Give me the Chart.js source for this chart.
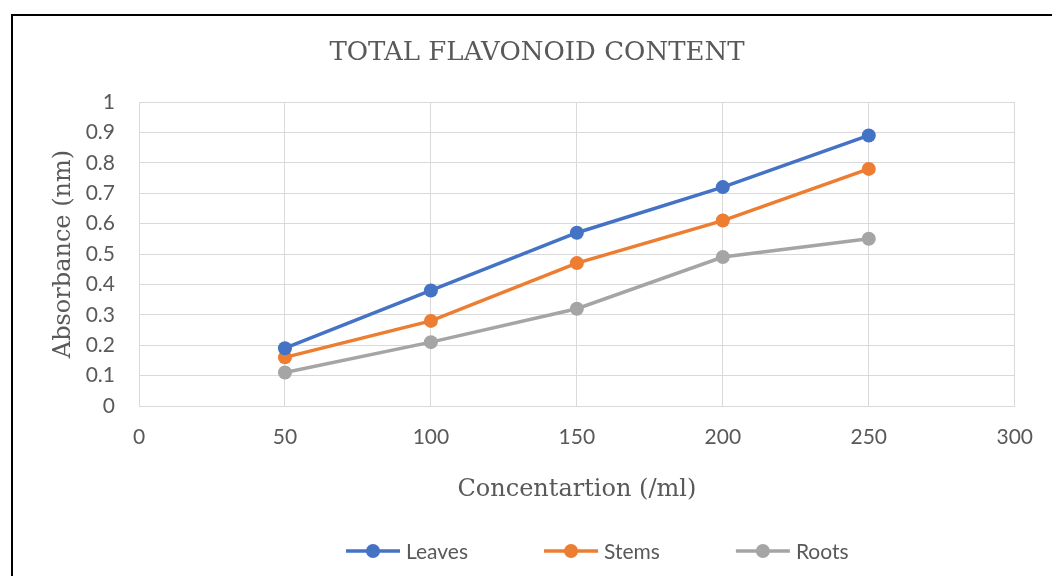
<!DOCTYPE html>
<html>
<head>
<meta charset="utf-8">
<script src="https://cdn.jsdelivr.net/npm/chart.js@4.4.1/dist/chart.umd.min.js"></script>
<style>
  html, body { margin: 0; padding: 0; background: #ffffff; }
  #wrap { width: 1052px; height: 576px; position: relative; }
</style>
</head>
<body>
<div id="wrap"><canvas id="c" width="1052" height="576"></canvas></div>
<script>
const chartTitle = 'TOTAL FLAVONOID CONTENT';
const xAxisTitle = 'Concentartion (/ml)';
const yAxisTitle = 'Absorbance (nm)';
const concentrations = [50, 100, 150, 200, 250];
const seriesNames = ['Leaves', 'Stems', 'Roots'];
const leaves = [0.19, 0.38, 0.57, 0.72, 0.89];
const stems  = [0.16, 0.28, 0.47, 0.61, 0.78];
const roots  = [0.11, 0.21, 0.32, 0.49, 0.55];
const xTickLabels = ['0', '50', '100', '150', '200', '250', '300'];
const yTickLabels = ['0', '0.1', '0.2', '0.3', '0.4', '0.5', '0.6', '0.7', '0.8', '0.9', '1'];
const seriesColors = ['#4472C4', '#ED7D31', '#A5A5A5'];

const TEXT = '#595959';
const GRID = '#D9D9D9';
const SANS = 'Lato, "Open Sans", "DejaVu Sans", sans-serif';
const SERIF = '"DejaVu Serif", "Liberation Serif", serif';

function toPoints(vals) { return concentrations.map((x, i) => ({ x: x, y: vals[i] })); }

const allSeries = [leaves, stems, roots];
const datasets = allSeries.map((vals, i) => ({
  label: seriesNames[i],
  data: toPoints(vals),
  borderColor: seriesColors[i],
  backgroundColor: seriesColors[i],
  pointBackgroundColor: seriesColors[i],
  pointBorderColor: seriesColors[i],
  borderWidth: 3.5,
  pointRadius: 7,
  pointHoverRadius: 7,
  pointBorderWidth: 0,
  tension: 0,
  fill: false
}));

const framePlugin = {
  id: 'frame',
  beforeDraw(chart) {
    const ctx = chart.ctx;
    ctx.save();
    ctx.fillStyle = '#ffffff';
    ctx.fillRect(0, 0, chart.width, chart.height);
    ctx.strokeStyle = '#000000';
    ctx.lineWidth = 2;
    ctx.beginPath();
    ctx.moveTo(12, chart.height + 10);
    ctx.lineTo(12, 15);
    ctx.lineTo(chart.width + 10, 15);
    ctx.stroke();
    ctx.restore();
  }
};

const titlePlugin = {
  id: 'customTitle',
  afterDraw(chart) {
    const ctx = chart.ctx;
    ctx.save();
    ctx.font = '26px ' + SERIF;
    ctx.fillStyle = TEXT;
    ctx.textAlign = 'center';
    ctx.textBaseline = 'middle';
    ctx.fillText(chartTitle, 537, 53);
    ctx.restore();
  }
};

const legendPlugin = {
  id: 'customLegend',
  afterDraw(chart) {
    const ctx = chart.ctx;
    ctx.save();
    ctx.font = '21px ' + SANS;
    ctx.textBaseline = 'middle';
    ctx.textAlign = 'left';
    const y = 551;
    const lineLen = 54, textGap = 6, itemGap = 76;
    let x = 346;
    chart.data.datasets.forEach((ds) => {
      ctx.strokeStyle = ds.borderColor;
      ctx.lineWidth = 3.5;
      ctx.beginPath();
      ctx.moveTo(x, y);
      ctx.lineTo(x + lineLen, y);
      ctx.stroke();
      ctx.fillStyle = ds.borderColor;
      ctx.beginPath();
      ctx.arc(x + lineLen / 2, y, 7, 0, Math.PI * 2);
      ctx.fill();
      ctx.fillStyle = TEXT;
      const tx = x + lineLen + textGap;
      ctx.fillText(ds.label, tx, y + 1);
      x = tx + ctx.measureText(ds.label).width + itemGap;
    });
    ctx.restore();
  }
};

new Chart(document.getElementById('c'), {
  type: 'line',
  data: { datasets: datasets },
  plugins: [framePlugin, titlePlugin, legendPlugin],
  options: {
    responsive: false,
    animation: false,
    devicePixelRatio: 1,
    layout: { padding: { left: 0, right: 36, top: 102, bottom: 0 } },
    plugins: {
      legend: { display: false },
      tooltip: { enabled: false },
      title: { display: false }
    },
    scales: {
      x: {
        type: 'linear',
        min: 0,
        max: 300,
        afterFit(scale) { scale.height = 170; },
        ticks: {
          stepSize: 50,
          color: TEXT,
          font: { family: SANS, size: 21 },
          padding: 19,
          maxRotation: 0,
          callback: (v, i) => xTickLabels[i]
        },
        grid: { color: GRID, lineWidth: 1, drawTicks: false },
        border: { color: GRID, width: 1 },
        title: {
          display: true,
          text: xAxisTitle,
          color: TEXT,
          font: { family: SERIF, size: 24, weight: 'normal' },
          padding: { top: 0, bottom: 72 }
        }
      },
      y: {
        type: 'linear',
        min: 0,
        max: 1,
        afterFit(scale) { scale.width = 139; },
        ticks: {
          stepSize: 0.1,
          color: TEXT,
          font: { family: SANS, size: 21 },
          padding: 24,
          callback: (v, i) => yTickLabels[i]
        },
        grid: { color: GRID, lineWidth: 1, drawTicks: false },
        border: { color: GRID, width: 1 },
        title: {
          display: true,
          text: yAxisTitle,
          color: TEXT,
          font: { family: SERIF, size: 24, weight: 'normal' },
          padding: { top: 49, bottom: 0 }
        }
      }
    }
  }
});
</script>
</body>
</html>
